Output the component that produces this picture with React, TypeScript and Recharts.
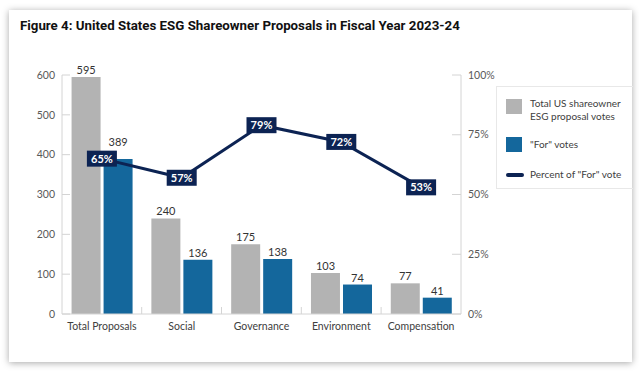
import React from 'react';
import { ComposedChart, Bar, Line, XAxis, YAxis, LabelList } from 'recharts';

const categories = ['Total Proposals', 'Social', 'Governance', 'Environment', 'Compensation'];
const totalVotes = [595, 240, 175, 103, 77];
const forVotes = [389, 136, 138, 74, 41];
const forPercent = [65, 57, 79, 72, 53];
const leftTicks = [0, 100, 200, 300, 400, 500, 600];
const rightTicks = [0, 25, 50, 75, 100];

const data = categories.map((c, i) => ({
  name: c,
  total: totalVotes[i],
  forV: forVotes[i],
  pct: forPercent[i],
}));

const GRAY = '#b3b3b3';
const BLUE = '#14679c';
const NAVY = '#0c2353';
const AXIS = '#d4d4d4';
const FONT = 'Lato, "Noto Sans", sans-serif';

const XTick = (props: any) => {
  const { x, y, payload, index } = props;
  const half = 39.8;
  return (
    <g>
      {index < 4 && <line x1={x + half} x2={x + half} y1={y} y2={y - 7} stroke={AXIS} />}
      <text x={x} y={y + 16} textAnchor="middle" fill="#404040" fontSize={10.5} fontFamily={FONT}>
        {payload.value}
      </text>
    </g>
  );
};

const PctLabel = (props: any) => {
  const { x, y, value } = props;
  const w = 30;
  const h = 16;
  return (
    <g>
      <rect x={x - w / 2} y={y - h / 2} width={w} height={h} fill={NAVY} />
      <text x={x} y={y + 4} textAnchor="middle" fill="#ffffff" fontSize={11} fontWeight="bold" fontFamily={FONT}>
        {value}%
      </text>
    </g>
  );
};

const BarValue = (props: any) => {
  const { x, y, width, value, index, lift } = props;
  const extra = lift && index === 0 ? 10 : 0;
  return (
    <text
      x={x + width / 2}
      y={y - 3 - extra}
      textAnchor="middle"
      fill="#333333"
      fontSize={11}
      fontFamily={FONT}
    >
      {value}
    </text>
  );
};

export default function App() {
  return (
    <div style={{ position: 'absolute', left: 0, top: 0, width: 639, height: 372, background: '#ffffff', overflow: 'hidden' }}>
      <div
        style={{
          position: 'absolute',
          left: 9,
          top: 10,
          width: 623,
          height: 352,
          background: '#ffffff',
          boxShadow: '0 1px 7px rgba(0,0,0,0.35)',
        }}
      />
      <div
        style={{
          position: 'absolute',
          left: 20,
          top: 18,
          fontFamily: '"Liberation Sans Narrow", "Roboto", sans-serif',
          fontWeight: 'bold',
          fontSize: 13.3,
          color: '#111111',
          whiteSpace: 'nowrap',
        }}
      >
        Figure 4: United States ESG Shareowner Proposals in Fiscal Year 2023-24
      </div>
      <div style={{ position: 'absolute', left: 0, top: 0 }}>
        <ComposedChart
          width={639}
          height={372}
          data={data}
          margin={{ top: 75, right: 138, bottom: 28, left: 22 }}
          barCategoryGap="12%"
          barGap={3}
        >
          <XAxis
            dataKey="name"
            xAxisId="x"
            height={30}
            stroke={AXIS}
            tickLine={false}
            tickSize={0}
            tickMargin={0}
            tick={<XTick />}
            interval={0}
          />
          <YAxis
            yAxisId="left"
            orientation="left"
            width={40}
            domain={[0, 600]}
            ticks={leftTicks}
            stroke={AXIS}
            tickSize={-8}
            tickMargin={15}
            tick={{ fill: '#595959', fontSize: 10.5, fontFamily: FONT }}
            interval={0}
          />
          <YAxis
            yAxisId="right"
            orientation="right"
            width={40}
            domain={[0, 100]}
            ticks={rightTicks}
            tickFormatter={(v: number) => `${v}%`}
            stroke={AXIS}
            tickSize={-9}
            tickMargin={16}
            tick={{ fill: '#595959', fontSize: 10.5, fontFamily: FONT }}
            interval={0}
          />
          <Bar dataKey="total" xAxisId="x" yAxisId="left" fill={GRAY} isAnimationActive={false}>
            <LabelList dataKey="total" content={<BarValue />} />
          </Bar>
          <Bar dataKey="forV" xAxisId="x" yAxisId="left" fill={BLUE} isAnimationActive={false}>
            <LabelList dataKey="forV" content={<BarValue lift />} />
          </Bar>
          <Line
            dataKey="pct"
            xAxisId="x"
            yAxisId="right"
            stroke={NAVY}
            strokeWidth={3}
            dot={false}
            activeDot={false}
            isAnimationActive={false}
          >
            <LabelList dataKey="pct" content={<PctLabel />} />
          </Line>
        </ComposedChart>
      </div>
      <div
        style={{
          position: 'absolute',
          left: 496,
          top: 86,
          width: 136,
          height: 101,
          borderTop: '1px solid #e8e8e8',
          borderLeft: '1px solid #e8e8e8',
          borderBottom: '1px solid #e8e8e8',
          fontFamily: FONT,
          fontSize: 10,
          color: '#404040',
        }}
      >
        <div style={{ position: 'absolute', left: 9, top: 12, width: 16, height: 15, background: GRAY }} />
        <div style={{ position: 'absolute', left: 33, top: 10, lineHeight: '13px', whiteSpace: 'nowrap' }}>
          Total US shareowner
          <br />
          ESG proposal votes
        </div>
        <div style={{ position: 'absolute', left: 9, top: 50, width: 16, height: 15, background: BLUE }} />
        <div style={{ position: 'absolute', left: 33, top: 51, lineHeight: '13px', whiteSpace: 'nowrap' }}>
          "For" votes
        </div>
        <div style={{ position: 'absolute', left: 9, top: 86, width: 18, height: 4, borderRadius: 2, background: NAVY }} />
        <div style={{ position: 'absolute', left: 33, top: 81, lineHeight: '13px', whiteSpace: 'nowrap' }}>
          Percent of "For" vote
        </div>
      </div>
    </div>
  );
}
